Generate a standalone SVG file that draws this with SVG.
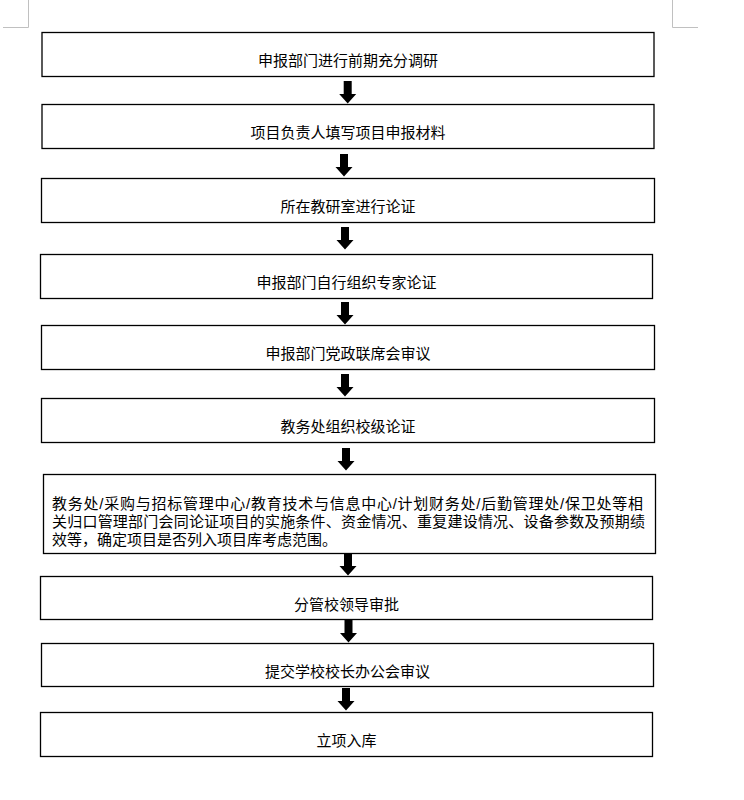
<svg xmlns="http://www.w3.org/2000/svg" xmlns:xlink="http://www.w3.org/1999/xlink" width="744" height="800" viewBox="0 0 744 800">
<style>
.box{fill:#ffffff;stroke:#000000;stroke-width:1.3}
.t{font-family:"Noto Sans CJK SC","Noto Sans",sans-serif;font-size:15px;fill:#000000;text-anchor:middle}
.tl{font-family:"Liberation Sans","Noto Sans CJK SC",sans-serif;font-size:15px;fill:#000000}
.mark{stroke:#c0c0c0;stroke-width:1;fill:none}
.arr{fill:#000000}
</style>
<defs>
<path id="arrow" d="M-4,0 H4 V13 H8.5 L0,22.5 L-8.5,13 H-4 Z"/>
</defs>
<rect width="744" height="800" fill="#ffffff"/>
<g id="page-marks">
<path class="mark" d="M28.5,0 V27.5 H3"/>
<path class="mark" d="M672.5,0 V27.5 H698"/>
</g>
<g id="n1"><rect class="box" x="42" y="32.5" width="612" height="44"/><text class="t" x="348" y="66">申报部门进行前期充分调研</text></g>
<g id="n2"><rect class="box" x="42" y="104.5" width="612" height="44"/><text class="t" x="348" y="138">项目负责人填写项目申报材料</text></g>
<g id="n3"><rect class="box" x="41.5" y="178.5" width="613" height="44"/><text class="t" x="348" y="212">所在教研室进行论证</text></g>
<g id="n4"><rect class="box" x="40.5" y="254.5" width="612" height="44"/><text class="t" x="346.5" y="288">申报部门自行组织专家论证</text></g>
<g id="n5"><rect class="box" x="41.5" y="325.5" width="613" height="44"/><text class="t" x="348" y="359">申报部门党政联席会审议</text></g>
<g id="n6"><rect class="box" x="41.5" y="398.5" width="613" height="44"/><text class="t" x="348" y="432">教务处组织校级论证</text></g>
<g id="n7"><rect class="box" x="43.5" y="474.5" width="612" height="79"/>
<text class="tl" x="52" y="509" textLength="591" lengthAdjust="spacing">教务处/采购与招标管理中心/教育技术与信息中心/计划财务处/后勤管理处/保卫处等相</text>
<text class="tl" x="52" y="527" textLength="593" lengthAdjust="spacing">关归口管理部门会同论证项目的实施条件、资金情况、重复建设情况、设备参数及预期绩</text>
<text class="tl" x="52" y="545">效等，确定项目是否列入项目库考虑范围。</text></g>
<g id="n8"><rect class="box" x="40.5" y="576.5" width="612" height="43"/><text class="t" x="346.5" y="610">分管校领导审批</text></g>
<g id="n9"><rect class="box" x="41.5" y="643.5" width="612" height="43"/><text class="t" x="347.5" y="677">提交学校校长办公会审议</text></g>
<g id="n10"><rect class="box" x="40.5" y="712.5" width="612" height="44"/><text class="t" x="346.5" y="746">立项入库</text></g>
<g id="connectors" class="arr">
<use xlink:href="#arrow" transform="translate(347.7,81)"/>
<use xlink:href="#arrow" transform="translate(344,154)"/>
<use xlink:href="#arrow" transform="translate(345,227)"/>
<use xlink:href="#arrow" transform="translate(345,302)"/>
<use xlink:href="#arrow" transform="translate(345,374)"/>
<use xlink:href="#arrow" transform="translate(346,448)"/>
<use xlink:href="#arrow" transform="translate(348,553)"/>
<use xlink:href="#arrow" transform="translate(348.5,620)"/>
<use xlink:href="#arrow" transform="translate(346,688)"/>
</g>
</svg>
